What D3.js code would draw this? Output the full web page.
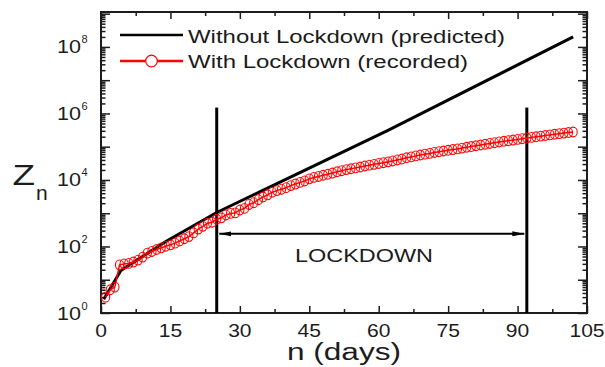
<!DOCTYPE html>
<html>
<head>
<meta charset="utf-8">
<script src="https://cdn.jsdelivr.net/npm/d3@7/dist/d3.min.js"></script>
<style>
  html, body { margin: 0; padding: 0; background: #fff; }
  svg { display: block; font-family: "Liberation Sans", Arial, sans-serif; }
</style>
</head>
<body>
<svg id="chart" width="605" height="367"></svg>
<script>
// ---- data -------------------------------------------------------------
// cumulative cases recorded each day (day 1 .. 102)
const recordedStartDay = 1;
const recordedCases = [
  3, 5, 6, 28, 30, 31, 34, 39, 48, 63,
  71, 81, 91, 102, 112, 126, 146, 171, 198, 256,
  334, 403, 499, 536, 657, 727, 887, 987, 1024, 1251,
  1397, 1834, 2069, 2547, 3072, 3577, 4281, 4789, 5274, 5865,
  6761, 7529, 8447, 9352, 10815, 11933, 12759, 13835, 14792, 16116,
  17656, 18985, 20471, 21700, 23077, 24530, 26283, 27890, 29451, 31324,
  33062, 35043, 37336, 39980, 42533, 46433, 49391, 52952, 56342, 59662,
  62939, 67152, 70756, 74281, 78003, 81970, 85940, 90927, 96169, 101139,
  106750, 112359, 118447, 125101, 131868, 138845, 145380, 151767, 158333, 165799,
  173763, 182143, 190535, 198706, 207615, 216919, 226770, 236657, 246628, 256611,
  266598, 276583
];

// predicted growth without lockdown (day, value)
const predictedDays   = [0.6, 4.3, 14, 25, 34.4, 62, 102];
const predictedValues = [2.6, 19, 141, 1050, 4470, 3.1e5, 2.0e8];

// lockdown period (days) and the level of its arrow
const lockdownStart = 25;
const lockdownEnd = 92;
const lockdownMarkerTop = 1.5e6;
const lockdownArrowLevel = 240;

// axes
const xMajorTicks = [0, 15, 30, 45, 60, 75, 90, 105];
const xMinorTicks = [7.5, 22.5, 37.5, 52.5, 67.5, 82.5, 97.5];
const yLabelExponents = [0, 2, 4, 6, 8];
const xDomain = [0, 105];
const yDomain = [1, Math.pow(10, 9.05)];

const legendLabels = ["Without Lockdown (predicted)", "With Lockdown (recorded)"];

// ---- layout -----------------------------------------------------------
const plot = { left: 101, right: 587, top: 12, bottom: 313 };
const ink = "#1c1c1c";
const red = "#ff0000";

const svg = d3.select("#chart");
const x = d3.scaleLinear().domain(xDomain).range([plot.left, plot.right]);
const y = d3.scaleLog().domain(yDomain).range([plot.bottom, plot.top]);

// log ticks: decades and the 2..9 minors inside each one
const yDecades = [], yMinors = [];
for (let e = 0; e <= 9; e++) {
  const b = Math.pow(10, e);
  if (b <= yDomain[1]) yDecades.push(b);
  for (let m = 2; m <= 9; m++) if (m * b <= yDomain[1]) yMinors.push(m * b);
}

function tickAxis(axis, g) {
  g.call(axis);
  g.select(".domain").remove();
  g.selectAll(".tick line").attr("stroke", ink).attr("stroke-width", 1.5);
  g.selectAll(".tick text").remove();
}

// bottom / top
tickAxis(d3.axisBottom(x).tickValues(xMajorTicks).tickSize(-7),
  svg.append("g").attr("transform", `translate(0,${plot.bottom})`));
tickAxis(d3.axisBottom(x).tickValues(xMinorTicks).tickSize(-4),
  svg.append("g").attr("transform", `translate(0,${plot.bottom})`));
tickAxis(d3.axisTop(x).tickValues(xMajorTicks).tickSize(-7),
  svg.append("g").attr("transform", `translate(0,${plot.top})`));
tickAxis(d3.axisTop(x).tickValues(xMinorTicks).tickSize(-4),
  svg.append("g").attr("transform", `translate(0,${plot.top})`));
// left / right
tickAxis(d3.axisLeft(y).tickValues(yDecades).tickSize(-9),
  svg.append("g").attr("transform", `translate(${plot.left},0)`));
tickAxis(d3.axisLeft(y).tickValues(yMinors).tickSize(-4.5),
  svg.append("g").attr("transform", `translate(${plot.left},0)`));
tickAxis(d3.axisRight(y).tickValues(yDecades).tickSize(-9),
  svg.append("g").attr("transform", `translate(${plot.right},0)`));
tickAxis(d3.axisRight(y).tickValues(yMinors).tickSize(-4.5),
  svg.append("g").attr("transform", `translate(${plot.right},0)`));

// frame
svg.append("rect")
  .attr("x", plot.left).attr("y", plot.top)
  .attr("width", plot.right - plot.left).attr("height", plot.bottom - plot.top)
  .attr("fill", "none").attr("stroke", ink).attr("stroke-width", 2);

// x tick labels
svg.append("g").selectAll("text").data(xMajorTicks).join("text")
  .attr("transform", d => `translate(${x(d)},${plot.bottom + 24}) scale(1.17,1)`)
  .attr("text-anchor", "middle")
  .attr("font-size", 18).attr("fill", ink)
  .text(d => d);

// y tick labels: 10 with a raised exponent
const yl = svg.append("g").selectAll("g").data(yLabelExponents).join("g")
  .attr("transform", e => `translate(0,${y(Math.pow(10, e))})`);
yl.append("text")
  .attr("x", 81).attr("y", 6.5)
  .attr("text-anchor", "end")
  .attr("font-size", 18).attr("fill", ink)
  .attr("textLength", 24).attr("lengthAdjust", "spacingAndGlyphs")
  .text("10");
yl.append("text")
  .attr("x", 81.5).attr("y", -3.5)
  .attr("font-size", 11).attr("fill", ink)
  .text(e => e);

// axis titles
svg.append("text")
  .attr("x", 287).attr("y", 360)
  .attr("font-size", 23).attr("fill", ink)
  .attr("textLength", 114).attr("lengthAdjust", "spacingAndGlyphs")
  .text("n (days)");
svg.append("text")
  .attr("x", 12.5).attr("y", 184.5)
  .attr("font-size", 30).attr("fill", ink)
  .attr("textLength", 22.5).attr("lengthAdjust", "spacingAndGlyphs")
  .text("Z");
svg.append("text")
  .attr("x", 36).attr("y", 199.5)
  .attr("font-size", 21).attr("fill", ink)
  .text("n");

// lockdown markers
svg.append("g").selectAll("line").data([lockdownStart, lockdownEnd]).join("line")
  .attr("x1", d => x(d)).attr("x2", d => x(d))
  .attr("y1", y(lockdownMarkerTop)).attr("y2", plot.bottom)
  .attr("stroke", "#000").attr("stroke-width", 3);

const defs = svg.append("defs");
defs.append("marker").attr("id", "arrowHead")
  .attr("viewBox", "0 0 12 6").attr("refX", 12).attr("refY", 3)
  .attr("markerWidth", 12).attr("markerHeight", 6)
  .attr("markerUnits", "userSpaceOnUse").attr("orient", "auto-start-reverse")
  .append("path").attr("d", "M0,0.5 L12,3 L0,5.5 Z").attr("fill", "#000");

svg.append("line")
  .attr("x1", x(lockdownStart) + 2.5).attr("x2", x(lockdownEnd) - 2.5)
  .attr("y1", y(lockdownArrowLevel)).attr("y2", y(lockdownArrowLevel))
  .attr("stroke", "#000").attr("stroke-width", 2)
  .attr("marker-start", "url(#arrowHead)").attr("marker-end", "url(#arrowHead)");

svg.append("text")
  .attr("x", 295).attr("y", 261.5)
  .attr("font-size", 19).attr("fill", ink)
  .attr("textLength", 138).attr("lengthAdjust", "spacingAndGlyphs")
  .text("LOCKDOWN");

// predicted curve
const predicted = predictedDays.map((d, i) => [d, predictedValues[i]]);
svg.append("path").datum(predicted)
  .attr("d", d3.line().x(d => x(d[0])).y(d => y(d[1])))
  .attr("fill", "none").attr("stroke", "#000").attr("stroke-width", 3)
  .attr("stroke-linejoin", "round");

// recorded series: a thin joining line under open markers
const recorded = recordedCases.map((v, i) => [recordedStartDay + i, v]);
svg.append("path").datum(recorded)
  .attr("d", d3.line().x(d => x(d[0])).y(d => y(d[1])))
  .attr("fill", "none").attr("stroke", red).attr("stroke-width", 1.5);
svg.append("g").selectAll("ellipse").data(recorded).join("ellipse")
  .attr("cx", d => x(d[0])).attr("cy", d => y(d[1]))
  .attr("rx", 4.1).attr("ry", 4.9)
  .attr("fill", "none").attr("stroke", red).attr("stroke-width", 1.1);

// legend
const legend = svg.append("g");
legend.append("line").attr("x1", 120).attr("x2", 183).attr("y1", 35).attr("y2", 35)
  .attr("stroke", "#000").attr("stroke-width", 2.5);
legend.append("line").attr("x1", 120).attr("x2", 183).attr("y1", 61).attr("y2", 61)
  .attr("stroke", red).attr("stroke-width", 2.5);
legend.append("circle").attr("cx", 151.5).attr("cy", 61).attr("r", 5.8)
  .attr("fill", "#fff").attr("stroke", red).attr("stroke-width", 1.2);
legend.append("text").attr("x", 188).attr("y", 42.5)
  .attr("font-size", 18).attr("fill", ink)
  .attr("textLength", 317).attr("lengthAdjust", "spacingAndGlyphs")
  .text(legendLabels[0]);
legend.append("text").attr("x", 188).attr("y", 67.5)
  .attr("font-size", 18).attr("fill", ink)
  .attr("textLength", 280).attr("lengthAdjust", "spacingAndGlyphs")
  .text(legendLabels[1]);
</script>
</body>
</html>
